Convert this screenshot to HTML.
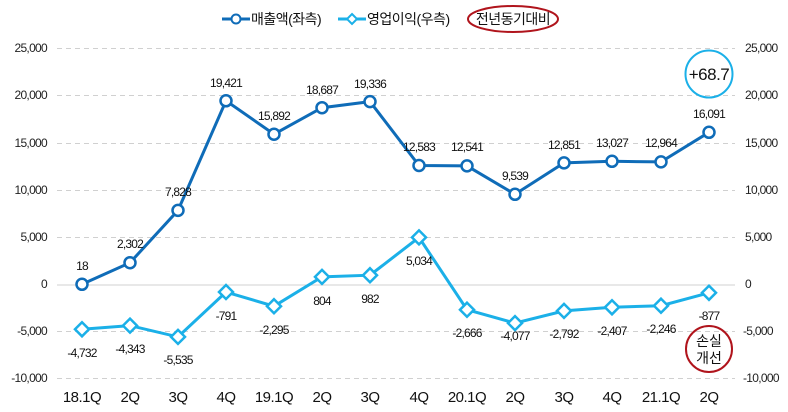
<!DOCTYPE html>
<html><head><meta charset="utf-8"><style>
html,body{margin:0;padding:0;background:#fff;}
svg{display:block;font-family:"Liberation Sans","Noto Sans CJK KR",sans-serif;}
.t{font-size:12px;letter-spacing:-0.8px;fill:#111;text-anchor:middle;}
.ax{font-size:12px;letter-spacing:-0.7px;fill:#222;}
.xl{font-size:15px;letter-spacing:-0.5px;fill:#111;text-anchor:middle;}
</style></head><body>
<svg width="788" height="412" viewBox="0 0 788 412">
<g stroke="#d0d0d0" stroke-width="1" stroke-dasharray="5,4">
<line x1="57" y1="48.5" x2="735" y2="48.5"/>
<line x1="57" y1="95.5" x2="735" y2="95.5"/>
<line x1="57" y1="143.5" x2="735" y2="143.5"/>
<line x1="57" y1="190.5" x2="735" y2="190.5"/>
<line x1="57" y1="237.5" x2="735" y2="237.5"/>
<line x1="57" y1="331.5" x2="735" y2="331.5"/>
<line x1="57" y1="378.5" x2="735" y2="378.5"/>
</g>
<line x1="57" y1="285" x2="735" y2="285" stroke="#d0d0d0" stroke-width="1"/>
<g class="ax" text-anchor="end">
<text x="47" y="52">25,000</text><text x="47" y="99">20,000</text><text x="47" y="147">15,000</text>
<text x="47" y="194">10,000</text><text x="47" y="241">5,000</text><text x="47" y="288">0</text>
<text x="47" y="335">-5,000</text><text x="47" y="382">-10,000</text>
</g>
<g class="ax" text-anchor="start">
<text x="745" y="52">25,000</text><text x="745" y="99">20,000</text><text x="745" y="147">15,000</text>
<text x="745" y="194">10,000</text><text x="745" y="241">5,000</text><text x="745" y="288">0</text>
<text x="743" y="335">-5,000</text><text x="743" y="382">-10,000</text>
</g>
<g class="xl">
<text x="82" y="402">18.1Q</text><text x="130" y="402">2Q</text><text x="178" y="402">3Q</text>
<text x="226" y="402">4Q</text><text x="274" y="402">19.1Q</text><text x="322" y="402">2Q</text>
<text x="370" y="402">3Q</text><text x="419" y="402">4Q</text><text x="467" y="402">20.1Q</text>
<text x="515" y="402">2Q</text><text x="564" y="402">3Q</text><text x="612" y="402">4Q</text>
<text x="661" y="402">21.1Q</text><text x="709" y="402">2Q</text>
</g>
<polyline fill="none" stroke="#0f6cb8" stroke-width="3" points="82,284.3 130,262.7 178,210.4 226,100.8 274,134.2 322,107.7 370,101.6 419,165.5 467,165.9 515,194.3 564,162.9 612,161.3 661,161.9 709,132.3"/>
<g fill="#fff" stroke="#0f6cb8" stroke-width="2.5">
<circle cx="82" cy="284.3" r="5.5"/><circle cx="130" cy="262.7" r="5.5"/><circle cx="178" cy="210.4" r="5.5"/>
<circle cx="226" cy="100.8" r="5.5"/><circle cx="274" cy="134.2" r="5.5"/><circle cx="322" cy="107.7" r="5.5"/>
<circle cx="370" cy="101.6" r="5.5"/><circle cx="419" cy="165.5" r="5.5"/><circle cx="467" cy="165.9" r="5.5"/>
<circle cx="515" cy="194.3" r="5.5"/><circle cx="564" cy="162.9" r="5.5"/><circle cx="612" cy="161.3" r="5.5"/>
<circle cx="661" cy="161.9" r="5.5"/><circle cx="709" cy="132.3" r="5.5"/>
</g>
<g class="t">
<text x="82" y="270">18</text><text x="130" y="248">2,302</text><text x="178" y="196">7,828</text>
<text x="226" y="87">19,421</text><text x="274" y="120">15,892</text><text x="322" y="94">18,687</text>
<text x="370" y="88">19,336</text><text x="419" y="151">12,583</text><text x="467" y="151">12,541</text>
<text x="515" y="180">9,539</text><text x="564" y="149">12,851</text><text x="612" y="147">13,027</text>
<text x="661" y="147">12,964</text><text x="709" y="118">16,091</text>
</g>
<polyline fill="none" stroke="#1bb0e8" stroke-width="3" points="82,329.3 130,325.6 178,336.9 226,292 274,306.2 322,276.9 370,275.2 419,237.4 467,309.7 515,323.1 564,310.9 612,307.3 661,305.7 709,292.8"/>
<g fill="#fff" stroke="#1bb0e8" stroke-width="2.5">
<polygon points="82,322.3 89,329.3 82,336.3 75,329.3"/>
<polygon points="130,318.6 137,325.6 130,332.6 123,325.6"/>
<polygon points="178,329.9 185,336.9 178,343.9 171,336.9"/>
<polygon points="226,285 233,292 226,299 219,292"/>
<polygon points="274,299.2 281,306.2 274,313.2 267,306.2"/>
<polygon points="322,269.9 329,276.9 322,283.9 315,276.9"/>
<polygon points="370,268.2 377,275.2 370,282.2 363,275.2"/>
<polygon points="419,230.4 426,237.4 419,244.4 412,237.4"/>
<polygon points="467,302.7 474,309.7 467,316.7 460,309.7"/>
<polygon points="515,316.1 522,323.1 515,330.1 508,323.1"/>
<polygon points="564,303.9 571,310.9 564,317.9 557,310.9"/>
<polygon points="612,300.3 619,307.3 612,314.3 605,307.3"/>
<polygon points="661,298.7 668,305.7 661,312.7 654,305.7"/>
<polygon points="709,285.8 716,292.8 709,299.8 702,292.8"/>
</g>
<g class="t">
<text x="82" y="357">-4,732</text><text x="130" y="353">-4,343</text><text x="178" y="364">-5,535</text>
<text x="226" y="320">-791</text><text x="274" y="334">-2,295</text><text x="322" y="305">804</text>
<text x="370" y="303">982</text><text x="419" y="265">5,034</text><text x="467" y="337">-2,666</text>
<text x="515" y="340">-4,077</text><text x="564" y="338">-2,792</text><text x="612" y="335">-2,407</text>
<text x="661" y="333">-2,246</text><text x="709" y="320">-877</text>
</g>
<circle cx="709" cy="74" r="23.5" fill="none" stroke="#1bb0e8" stroke-width="2"/>
<text x="709" y="80" text-anchor="middle" style="font-size:17px;fill:#111;letter-spacing:-0.5px">+68.7</text>
<circle cx="709" cy="349" r="23" fill="none" stroke="#b0141c" stroke-width="2"/>
<text x="709" y="346" text-anchor="middle" style="font-size:14px;fill:#111">손실</text>
<text x="709" y="363" text-anchor="middle" style="font-size:14px;fill:#111">개선</text>
<line x1="222" y1="19" x2="250" y2="19" stroke="#0f6cb8" stroke-width="3"/>
<circle cx="236" cy="19" r="4.5" fill="#fff" stroke="#0f6cb8" stroke-width="2"/>
<text x="251" y="24" style="font-size:14px;fill:#111;letter-spacing:-0.5px">매출액(좌측)</text>
<line x1="338" y1="19" x2="366" y2="19" stroke="#1bb0e8" stroke-width="3"/>
<polygon points="352,14 357,19 352,24 347,19" fill="#fff" stroke="#1bb0e8" stroke-width="2"/>
<text x="367" y="24" style="font-size:14px;fill:#111;letter-spacing:-0.5px">영업이익(우측)</text>
<ellipse cx="513" cy="19" rx="45" ry="13" fill="none" stroke="#b0141c" stroke-width="2"/>
<text x="513" y="24" text-anchor="middle" style="font-size:14px;fill:#111;letter-spacing:-0.5px">전년동기대비</text>
</svg>
</body></html>
